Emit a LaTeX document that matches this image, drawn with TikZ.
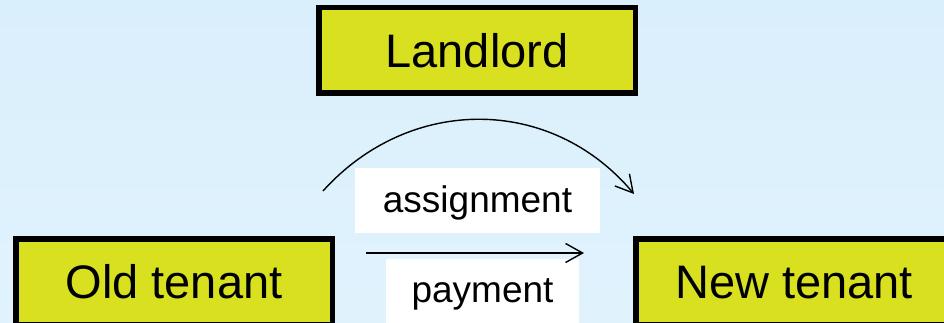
\documentclass[tikz,border=0pt]{standalone}
\usepackage{fontspec}
\setmainfont{Liberation Sans}
\usetikzlibrary{arrows.meta}

\definecolor{bgtop}{RGB}{218,239,252}
\definecolor{bgbottom}{RGB}{224,243,253}
\definecolor{partyfill}{RGB}{216,224,32}

\tikzset{
  party/.style={draw=black, line width=5.5pt, fill=partyfill, inner sep=0pt,
    outer sep=0pt, minimum width=316.5pt, minimum height=85.5pt,
    font=\fontsize{47}{50}\selectfont, text height=33.5pt, text depth=0pt},
  tag/.style={fill=white, inner sep=0pt, outer sep=0pt,
    font=\fontsize{37}{40}\selectfont, text depth=0pt},
  flow/.style={line width=1.4pt, -{Straight Barb[length=17pt,width=19pt,line width=1.4pt]}}
}

\begin{document}
\begin{tikzpicture}[x=1pt,y=1pt]
  \useasboundingbox (0,0) rectangle (944,323);
  \clip (0,0) rectangle (944,323);
  % background
  \shade[top color=bgtop, bottom color=bgbottom] (0,0) rectangle (944,323);

  % the three parties
  \node[party] (landlord) at (477,272.5) {Landlord};
  \node[party] (old) at (174,41) {Old tenant};
  \node[party] (new) at (794,41) {New tenant};

  % labels on white panels
  \node[tag, minimum width=245pt, minimum height=65pt, text height=25pt]
    (assign) at (477.5,122.5) {assignment};
  \node[tag, minimum width=193pt, minimum height=65pt, text height=23pt]
    (pay) at (482.5,31.5) {payment};

  % arrow end points
  \coordinate (arcstart) at (323,132);
  \coordinate (arcend) at (634,129);
  \coordinate (paystart) at (366,70);
  \coordinate (payend) at (584,70);

  % assignment: curved arrow over the label
  \draw[flow] (arcstart) to[out=48, in=130, looseness=1.06] (arcend);
  % payment: straight arrow
  \draw[flow] (paystart) -- (payend);
\end{tikzpicture}
\end{document}
